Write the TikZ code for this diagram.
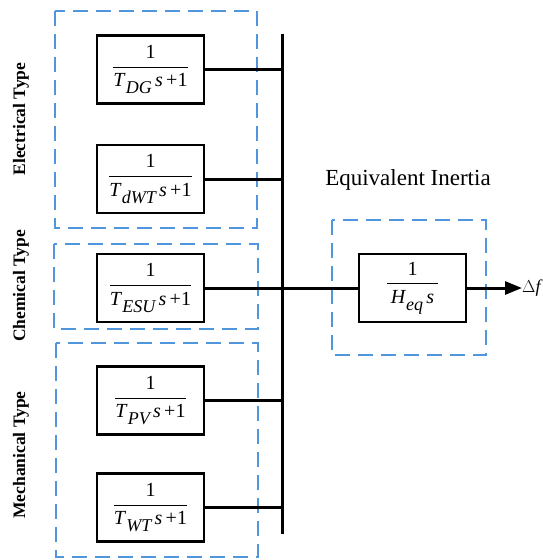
\documentclass[tikz,border=0pt]{standalone}
\usepackage{amsmath}
\usepackage{fontspec}
\setmainfont{Liberation Serif}
\usetikzlibrary{arrows.meta}
\definecolor{dashblue}{RGB}{80,150,220}
\newcommand{\subl}[1]{\raisebox{-7pt}{\fontsize{18}{18}\selectfont\itshape #1}}
\newcommand{\blkfrac}[1]{$\dfrac{\text{1}}{\text{#1}\vphantom{\subl{X}}}$}
\tikzset{
  tf/.style={draw=black, line width=2.5pt, minimum width=107pt, minimum height=68pt, inner sep=0pt, font=\fontsize{20}{22}\selectfont},
  grp/.style={draw=dashblue, line width=2pt, dash pattern=on 15pt off 8pt},
  wire/.style={line width=3pt},
  lab/.style={rotate=90, font=\bfseries\fontsize{17.5}{19}\selectfont},
}
\begin{document}
\begin{tikzpicture}[x=1pt,y=-1pt]
\useasboundingbox (0,0) rectangle (543,560);
% groups
\draw[grp] (55,11) rectangle (257,228);
\draw[grp] (54,244) rectangle (258,329);
\draw[grp] (56,343) rectangle (258,557);
\draw[grp] (332,220) rectangle (486,355);
% blocks
\node[tf] (dg)  at (150.5,69.5)  {\blkfrac{\textit{T}\subl{DG}\,\textit{s}\,+1}};
\node[tf] (dwt) at (150.5,179)   {\blkfrac{\textit{T}\subl{dWT}\,\textit{s}\,+1}};
\node[tf] (esu) at (150.5,288)   {\blkfrac{\textit{T}\subl{ESU}\,\textit{s}\,+1}};
\node[tf] (pv)  at (150.5,400.5) {\blkfrac{\textit{T}\subl{PV}\,\textit{s}\,+1}};
\node[tf] (wt)  at (150.5,507.5) {\blkfrac{\textit{T}\subl{WT}\,\textit{s}\,+1}};
\node[tf] (heq) at (412.5,288)   {\blkfrac{\,\textit{H}\subl{eq}\,\textit{s}\,}};
% bus
\coordinate (bt) at (282,34);
\coordinate (bb) at (282,534);
\draw[wire] (bt) -- (bb);
\draw[wire] (dg.east) -- (dg.east -| bt);
\draw[wire] (dwt.east) -- (dwt.east -| bt);
\draw[wire] (pv.east) -- (pv.east -| bt);
\draw[wire] (wt.east) -- (wt.east -| bt);
\draw[wire] (esu.east) -- (heq.west);
\coordinate (out) at (522,288);
\draw[wire, -{Triangle[length=17pt,width=13pt]}] (heq.east) -- (out);
\node[anchor=west, inner sep=0pt, font=\fontsize{18}{20}\selectfont] (df) at (out) {$\Delta$\textit{f}};
% labels
\node[lab] (le) at (21,119) {Electrical Type};
\node[lab] (lc) at (21,286) {Chemical Type};
\node[lab] (lm) at (21,455) {Mechanical Type};
\node[font=\fontsize{23}{25}\selectfont] (ei) at (408,180) {Equivalent Inertia};
\end{tikzpicture}
\end{document}
